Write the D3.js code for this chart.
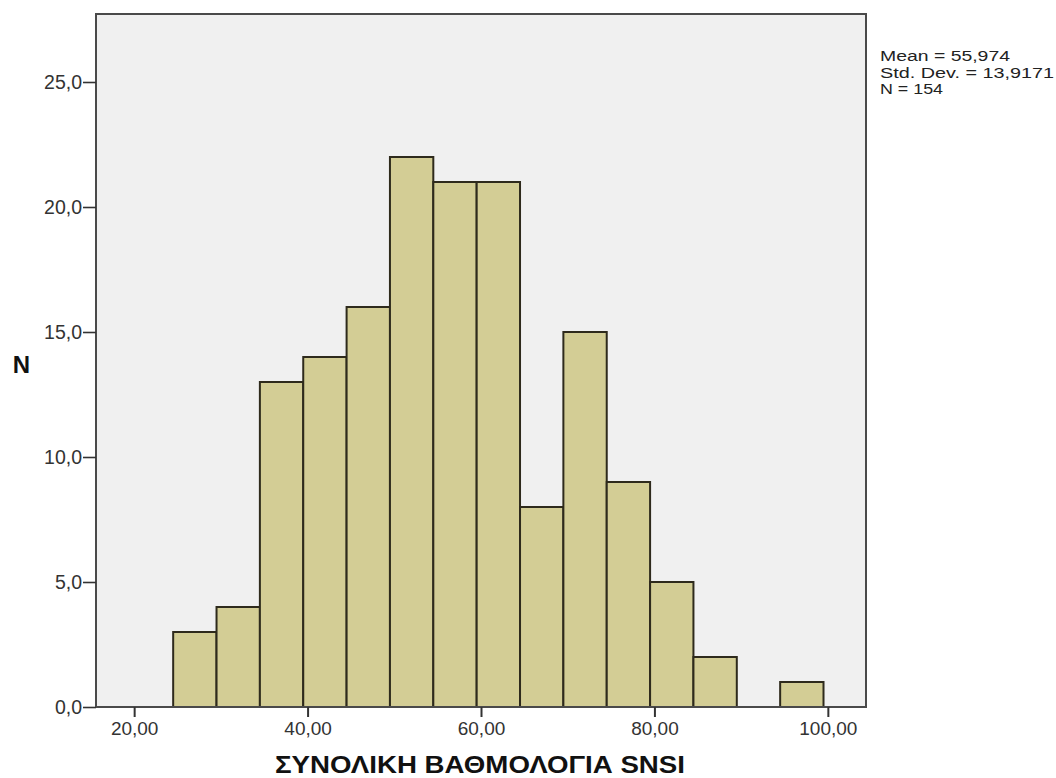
<!DOCTYPE html>
<html>
<head>
<meta charset="utf-8">
<script src="https://cdn.jsdelivr.net/npm/d3@7"></script>
<style>
  html, body { margin: 0; padding: 0; background: #fff; }
  svg { display: block; font-family: "Liberation Sans", Arial, sans-serif; }
</style>
</head>
<body>
<svg id="chart" width="1056" height="778"></svg>
<script>
// Histogram of total SNSI score (bin edges and counts)
const binStarts = [24.5, 29.5, 34.5, 39.5, 44.5, 49.5, 54.5, 59.5, 64.5, 69.5, 74.5, 79.5, 84.5, 89.5, 94.5];
const binWidth = 5;
const counts = [3, 4, 13, 14, 16, 22, 21, 21, 8, 15, 9, 5, 2, 0, 1];
const xTicks = [20, 40, 60, 80, 100];
const yTicks = [0, 5, 10, 15, 20, 25];
const statsLines = ["Mean = 55,974", "Std. Dev. = 13,9171", "N = 154"];
const statsWidths = [130, 174, 63];
const xTitle = "ΣΥΝΟΛΙΚΗ ΒΑΘΜΟΛΟΓΙΑ SNSI";
const yTitle = "N";

const bins = binStarts.map((s, i) => ({ x0: s, x1: s + binWidth, n: counts[i] }));

const svg = d3.select("#chart");
const plot = { left: 96, top: 14, right: 866, bottom: 707 };

const x = d3.scaleLinear().domain([15.6, 104.4]).range([plot.left, plot.right]);
const y = d3.scaleLinear().domain([0, 27.72]).range([plot.bottom, plot.top]);

const fmt1 = d => d3.format(".1f")(d).replace(".", ",");
const fmt2 = d => d3.format(".2f")(d).replace(".", ",");

// plot background
svg.append("rect")
  .attr("x", plot.left).attr("y", plot.top)
  .attr("width", plot.right - plot.left).attr("height", plot.bottom - plot.top)
  .attr("fill", "#f0f0f0");

// bars
svg.append("g").selectAll("rect")
  .data(bins.filter(b => b.n > 0))
  .join("rect")
  .attr("x", d => x(d.x0))
  .attr("y", d => y(d.n))
  .attr("width", d => x(d.x1) - x(d.x0))
  .attr("height", d => y(0) - y(d.n))
  .attr("fill", "#d3cd95")
  .attr("stroke", "#2e2a1c")
  .attr("stroke-width", 2);

// frame
svg.append("rect")
  .attr("x", plot.left).attr("y", plot.top)
  .attr("width", plot.right - plot.left).attr("height", plot.bottom - plot.top)
  .attr("fill", "none")
  .attr("stroke", "#4a4a4a")
  .attr("stroke-width", 2);

// y axis
const yAxis = d3.axisLeft(y).tickValues(yTicks).tickFormat(fmt1).tickSize(13).tickPadding(1);
const gy = svg.append("g").attr("transform", `translate(${plot.left},0)`).call(yAxis);
gy.select(".domain").remove();
gy.selectAll(".tick line").attr("stroke", "#333").attr("stroke-width", 1.6);
gy.selectAll(".tick text").attr("fill", "#333").style("font-size", "19.5px");

// x axis
const xAxis = d3.axisBottom(x).tickValues(xTicks).tickFormat(fmt2).tickSize(10).tickPadding(5);
const gx = svg.append("g").attr("transform", `translate(0,${plot.bottom})`).call(xAxis);
gx.select(".domain").remove();
gx.selectAll(".tick line").attr("stroke", "#333").attr("stroke-width", 2);
gx.selectAll(".tick text").attr("fill", "#333").style("font-size", "19px");

// axis titles
svg.append("text")
  .attr("x", 275).attr("y", 773)
  .attr("textLength", 410).attr("lengthAdjust", "spacingAndGlyphs")
  .style("font-size", "24.5px").style("font-weight", "bold")
  .attr("fill", "#111")
  .text(xTitle);

svg.append("text")
  .attr("x", 21.5).attr("y", 372.5)
  .attr("text-anchor", "middle")
  .style("font-size", "24px").style("font-weight", "bold")
  .attr("fill", "#111")
  .text(yTitle);

// summary statistics
svg.append("g").selectAll("text")
  .data(statsLines)
  .join("text")
  .attr("x", 880)
  .attr("y", (d, i) => 61 + i * 16.5)
  .attr("textLength", (d, i) => statsWidths[i])
  .attr("lengthAdjust", "spacingAndGlyphs")
  .style("font-size", "14px")
  .attr("fill", "#222")
  .text(d => d);
</script>
</body>
</html>
